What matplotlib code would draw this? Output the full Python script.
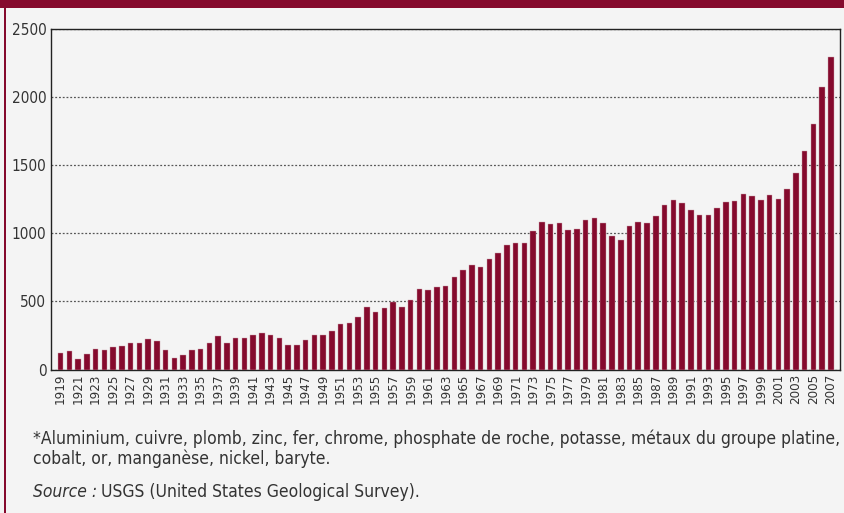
import matplotlib
matplotlib.use('Agg')
import matplotlib.pyplot as plt
from matplotlib.patches import Rectangle

years = list(range(1919, 2008))
values = [
    118, 134, 78, 115, 152, 140, 164, 171, 193, 193,        # 1919-1928
    225, 206, 140, 88, 105, 142, 152, 196, 243, 196,        # 1929-1938
    230, 230, 252, 265, 257, 230, 182, 177, 218, 250,       # 1939-1948
    255, 286, 335, 340, 388, 459, 422, 452, 497, 461,       # 1949-1958
    510, 595, 583, 607, 617, 682, 728, 767, 755, 813,       # 1959-1968
    854, 915, 932, 930, 1015, 1083, 1071, 1074, 1027, 1034, # 1969-1978
    1100, 1114, 1076, 978, 952, 1056, 1085, 1073, 1127, 1209, # 1979-1988
    1248, 1221, 1175, 1136, 1136, 1187, 1233, 1238, 1289, 1272, # 1989-1998
    1243, 1286, 1253, 1323, 1442, 1602, 1801, 2076, 2296,   # 1999-2007
]
y_ticks = [0, 500, 1000, 1500, 2000, 2500]
x_ticks = years[::2]

footnote = ("*Aluminium, cuivre, plomb, zinc, fer, chrome, phosphate de roche, potasse, "
            "métaux du groupe platine,\ncobalt, or, manganèse, nickel, baryte.")

bar_color = '#850a2d'
bg = '#f4f4f4'
txt = '#333333'
font = dict(family='DejaVu Sans', stretch='condensed')

fig = plt.figure(figsize=(8.44, 5.13), dpi=100)
fig.patch.set_facecolor(bg)

# bandeau du haut + filet gauche
fig.add_artist(Rectangle((0, 1 - 8 / 513), 1, 8 / 513, transform=fig.transFigure,
                         color=bar_color, lw=0))
fig.add_artist(Rectangle((4 / 844, 0), 2 / 844, 1, transform=fig.transFigure,
                         color=bar_color, lw=0))

ax = fig.add_axes([50.5 / 844, 1 - 369.5 / 513, (840 - 50.5) / 844, (369.5 - 29.3) / 513])
ax.set_facecolor(bg)
ax.bar(years, values, width=0.63, color=bar_color, edgecolor='#c9a0ab', linewidth=0.3, zorder=3)

ax.set_xlim(1917.85, 2008.05)
ax.set_ylim(0, 2500)
ax.set_yticks(y_ticks)
ax.set_yticklabels([str(v) for v in y_ticks], fontsize=11, color=txt, **font)
ax.set_xticks(x_ticks)
ax.set_xticklabels([str(v) for v in x_ticks], rotation=90, fontsize=9.5, color=txt, **font)
ax.tick_params(length=0, pad=3)
ax.yaxis.grid(True, linestyle=(0, (1.5, 1.5)), color='#555555', linewidth=0.9, zorder=1)
for s in ax.spines.values():
    s.set_color('#222222')
    s.set_linewidth(1.0)

fig.text(33 / 844, 1 - 429 / 513, footnote, fontsize=12.5, color=txt,
         va='top', linespacing=1.12, **font)
src = fig.text(33 / 844, 1 - 483 / 513, 'Source :', fontsize=12.5, color=txt,
               style='italic', va='top', **font)
fig.canvas.draw()
bb = src.get_window_extent()
fig.text((bb.x1 + 4) / 844, 1 - 483 / 513, 'USGS (United States Geological Survey).',
         fontsize=12.5, color=txt, va='top', **font)

fig.savefig('out.png', dpi=100, facecolor=bg)
